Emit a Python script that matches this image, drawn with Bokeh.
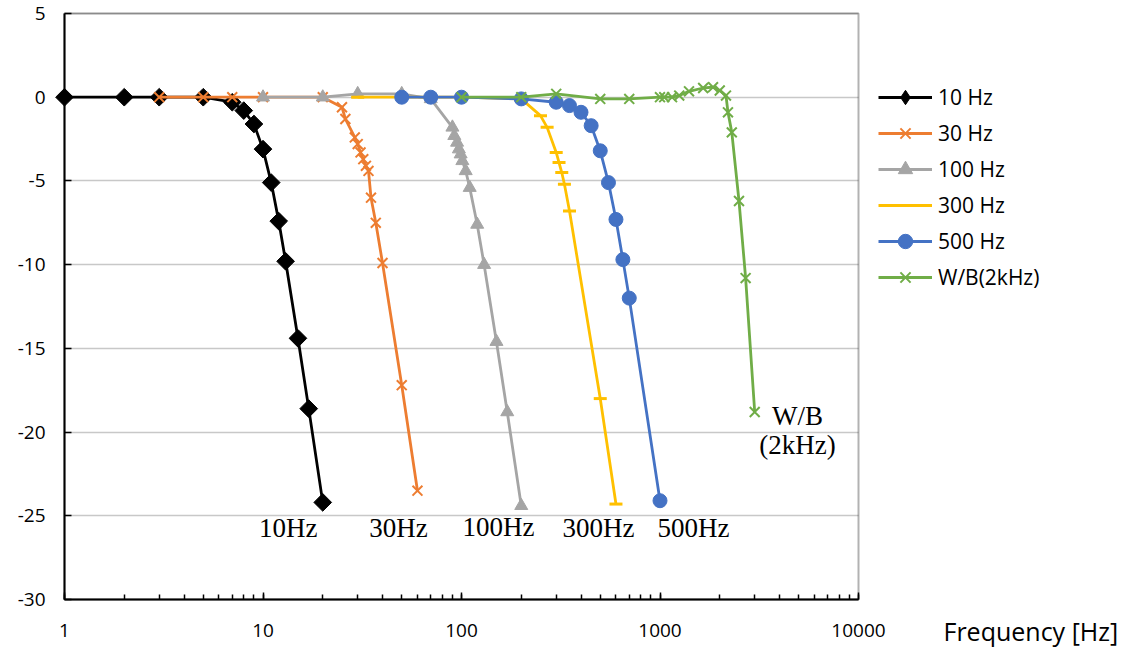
from bokeh.plotting import figure
from bokeh.models import (Range1d, Legend, LegendItem, Label, LogTicker, FixedTicker,
                          PrintfTickFormatter, BoxAnnotation)
from bokeh.embed import file_html
from bokeh.resources import INLINE

# ---------------- data ----------------
f10 = [1, 2, 3, 5, 7, 8, 9, 10, 11, 12, 13, 15, 17, 20]
db10 = [0, 0, 0, 0, -0.3, -0.8, -1.6, -3.1, -5.1, -7.4, -9.8, -14.4, -18.6, -24.2]

f30 = [3, 5, 7, 10, 20, 25, 26, 29, 30, 31, 32, 33, 34, 35, 37, 40, 50, 60]
db30 = [0, 0, 0, 0, 0, -0.6, -1.3, -2.4, -2.8, -3.3, -3.7, -4.1, -4.4, -6.0, -7.5, -9.9, -17.2, -23.5]

f100 = [10, 20, 30, 50, 70, 90, 92, 95, 97, 99, 101, 105, 110, 120, 130, 150, 170, 200]
db100 = [0, 0, 0.2, 0.2, -0.1, -1.8, -2.3, -2.7, -3.1, -3.4, -3.8, -4.4, -5.4, -7.6, -10.0, -14.6, -18.8, -24.4]

f300 = [30, 50, 100, 200, 250, 270, 300, 310, 320, 330, 350, 500, 600]
db300 = [0, 0, 0, -0.1, -1.1, -1.8, -3.3, -3.9, -4.5, -5.2, -6.8, -18.0, -24.3]

f500 = [50, 70, 100, 200, 300, 350, 400, 450, 500, 550, 600, 650, 700, 1000]
db500 = [0, 0, 0, -0.1, -0.3, -0.5, -0.9, -1.7, -3.2, -5.1, -7.3, -9.7, -12.0, -24.1]

fwb = [100, 200, 300, 500, 700, 1000, 1050, 1150, 1250, 1400, 1650, 1850, 2000, 2150, 2200, 2300, 2500, 2700, 3000]
dbwb = [0, 0, 0.2, -0.1, -0.1, 0, 0, 0, 0.1, 0.35, 0.55, 0.6, 0.4, 0.1, -0.9, -2.1, -6.2, -10.8, -18.8]

series_names = ["10 Hz", "30 Hz", "100 Hz", "300 Hz", "500 Hz", "W/B(2kHz)"]
y_ticks = [-30, -25, -20, -15, -10, -5, 0, 5]
x_axis_min, x_axis_max = 1, 10000
y_axis_min, y_axis_max = -30, 5

curve_labels = ["10Hz", "30Hz", "100Hz", "300Hz", "500Hz", "W/B", "(2kHz)"]
label_x = [13.4, 48.2, 153.6, 490, 1475, 4930, 4930]
label_y = [-25.75, -25.75, -25.65, -25.75, -25.75, -19.05, -20.8]

# ---------------- figure ----------------
# The whole canvas is the plot frame; the axis box (1..10000, -30..5) sits inside
# it, so that tick labels, legend and axis title outside the box are not clipped.
W, H = 1124, 647
px_per_decade = 198.5
px_per_db = 586 / 35.0
box_left, box_top = 64, 13
x_lo = 10 ** (-box_left / px_per_decade)
x_hi = 10 ** ((W - box_left) / px_per_decade)
y_hi = y_axis_max + box_top / px_per_db
y_lo = y_axis_max - (H - box_top) / px_per_db

p = figure(width=W, height=H, x_axis_type="log",
           x_range=Range1d(x_lo, x_hi), y_range=Range1d(y_lo, y_hi),
           output_backend="svg", toolbar_location=None,
           min_border_left=0, min_border_right=0,
           min_border_top=0, min_border_bottom=0)

p.background_fill_color = "white"
p.border_fill_color = "white"
p.outline_line_color = None

p.xgrid.visible = False
yg = p.ygrid[0]
yg.ticker = FixedTicker(ticks=y_ticks)
yg.grid_line_color = "#C8C8C8"
yg.grid_line_width = 1.3
yg.bounds = (y_axis_min, y_axis_max)
if "cross_bounds" in yg.properties():
    yg.cross_bounds = (x_axis_min, x_axis_max)

p.xaxis.ticker = LogTicker(mantissas=[1], num_minor_ticks=10)
p.xaxis.formatter = PrintfTickFormatter(format="%d")
p.xaxis.fixed_location = y_axis_min
p.xaxis.bounds = (x_axis_min, x_axis_max)
p.yaxis.ticker = FixedTicker(ticks=y_ticks)
p.yaxis.formatter = PrintfTickFormatter(format="%d")
p.yaxis.fixed_location = x_axis_min
p.yaxis.bounds = (y_axis_min, y_axis_max)

for ax in (p.xaxis[0], p.yaxis[0]):
    ax.axis_line_width = 2
    ax.axis_line_color = "black"
    ax.major_tick_in = 7
    ax.major_tick_out = 0
    ax.major_tick_line_width = 1.5
    ax.major_tick_line_color = "black"
    ax.major_label_text_font = "Open Sans"
    ax.major_label_text_font_size = "19px"
    ax.major_label_text_color = "black"
p.xaxis.minor_tick_in = 5
p.xaxis.minor_tick_out = 0
p.xaxis.minor_tick_line_width = 1.5
p.xaxis.minor_tick_line_color = "black"
p.yaxis.minor_tick_line_color = None
p.xaxis.major_label_standoff = 24
p.yaxis.major_label_standoff = 19

# box around the plotting area (the axis ranges)
p.add_layout(BoxAnnotation(left=x_axis_min, right=x_axis_max, bottom=y_axis_min, top=y_axis_max,
                           fill_alpha=0, line_color="black", line_width=2, level="underlay"))

# ---------------- series ----------------
styles = [
    dict(color="#000000", marker="square", size=12.5, angle=0.785398, lw=1),
    dict(color="#ED7D31", marker="x", size=14, angle=0, lw=2),
    dict(color="#A5A5A5", marker="triangle", size=13, angle=0, lw=1),
    dict(color="#FFC000", marker="dash", size=13, angle=0, lw=3),
    dict(color="#4472C4", marker="circle", size=14, angle=0, lw=1),
    dict(color="#70AD47", marker="x", size=14, angle=0, lw=2),
]
xs = [f10, f30, f100, f300, f500, fwb]
ys = [db10, db30, db100, db300, db500, dbwb]

items = []
for name, x, y, st in zip(series_names, xs, ys, styles):
    r1 = p.line(x, y, line_color=st["color"], line_width=2.8, line_join="round")
    if st["marker"] == "square":
        # legend glyphs are never rotated: this diamond renderer gives the legend key,
        # and is drawn underneath (fully covered by) the rotated-square markers
        r_key = p.scatter(x, y, marker="diamond", size=11,
                          line_color=st["color"], fill_color=st["color"])
    r2 = p.scatter(x, y, marker=st["marker"], size=st["size"], angle=st["angle"],
                   line_color=st["color"], fill_color=st["color"], line_width=st["lw"])
    if st["marker"] == "square":
        items.append(LegendItem(label=name, renderers=[r1, r_key]))
    else:
        items.append(LegendItem(label=name, renderers=[r1, r2]))

legend = Legend(items=items, location=(878, 352),
                glyph_width=54, glyph_height=36, label_height=36,
                spacing=0, padding=0, margin=0, label_standoff=6,
                label_text_font="Open Sans", label_text_font_size="21px",
                label_text_color="black",
                border_line_color=None, background_fill_alpha=0)
p.add_layout(legend, "center")

for t, lx, ly in zip(curve_labels, label_x, label_y):
    p.add_layout(Label(x=lx, y=ly, text=t, text_align="center", text_baseline="middle",
                       text_font="Liberation Serif", text_font_size="27px", text_color="black"))

p.add_layout(Label(x=26800, y=-31.86, text="Frequency [Hz]", text_align="left",
                   text_baseline="middle", text_font="Open Sans", text_font_size="25px",
                   text_color="black"))

open("out.html", "w").write(file_html(p, INLINE))
